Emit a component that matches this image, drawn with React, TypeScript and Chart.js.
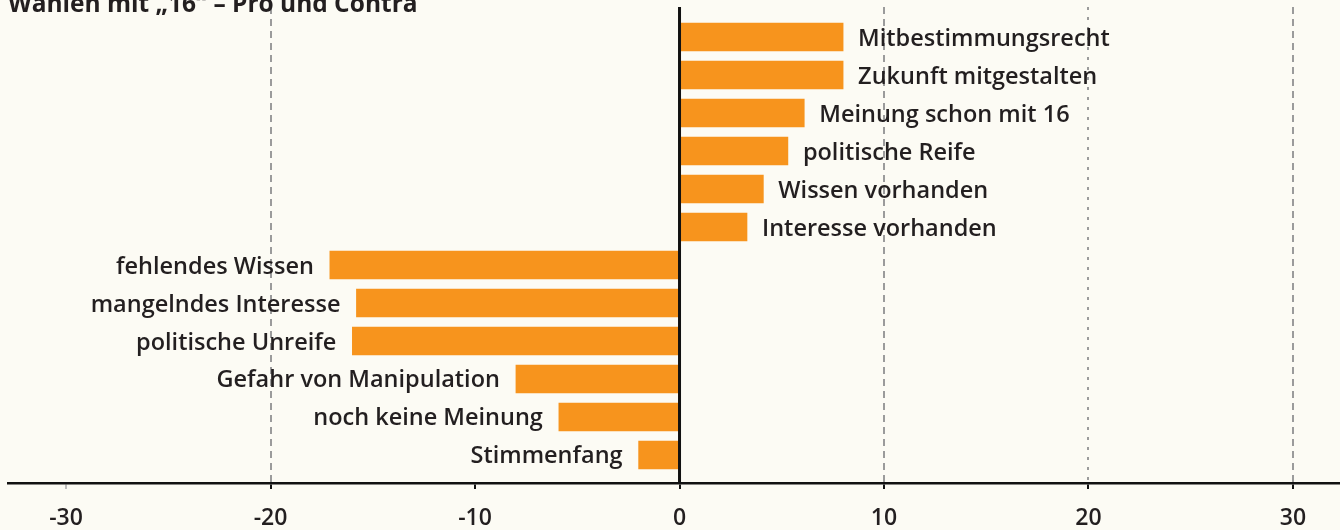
import React, { useEffect, useRef } from "react";
import { Chart, registerables } from "chart.js";

Chart.register(...registerables);

const TITLE = "Wahlen mit „16“ – Pro und Contra";
const categories = [
  "Mitbestimmungsrecht",
  "Zukunft mitgestalten",
  "Meinung schon mit 16",
  "politische Reife",
  "Wissen vorhanden",
  "Interesse vorhanden",
  "fehlendes Wissen",
  "mangelndes Interesse",
  "politische Unreife",
  "Gefahr von Manipulation",
  "noch keine Meinung",
  "Stimmenfang",
];
const values = [8.0, 8.0, 6.1, 5.3, 4.1, 3.3, -17.1, -15.8, -16.0, -8.0, -5.9, -2.0];
const tickValues = [-30, -20, -10, 0, 10, 20, 30];
const gridValues = [-20, 10, 20, 30];

const FONT = "'Open Sans'";
const TEXT = "#231f20";
const BAR = "#f7941d";
const BG = "#fcfbf4";

export default function App() {
  const ref = useRef<HTMLCanvasElement | null>(null);

  useEffect(() => {
    document.body.style.margin = "0";
    document.body.style.background = BG;
    document.body.style.overflow = "hidden";
    const canvas = ref.current;
    if (!canvas) return;

    const overlay = {
      id: "overlay",
      beforeDatasetsDraw(chart: any) {
        const { ctx, chartArea, scales } = chart;
        const x = scales.x;
        ctx.save();
        ctx.strokeStyle = "#9b9b9b";
        ctx.lineWidth = 2;
        gridValues.forEach((v) => {
          const px = Math.round(x.getPixelForValue(v));
          ctx.setLineDash(v === 20 ? [3, 7] : [7, 5]);
          ctx.beginPath();
          ctx.moveTo(px, chartArea.top);
          ctx.lineTo(px, chartArea.bottom);
          ctx.stroke();
        });
        ctx.restore();
      },
      afterDatasetsDraw(chart: any) {
        const { ctx, chartArea, scales } = chart;
        const x = scales.x;
        const y = scales.y;
        ctx.save();
        const zx = x.getPixelForValue(0);
        ctx.strokeStyle = "#111111";
        ctx.lineWidth = 3;
        ctx.beginPath();
        ctx.moveTo(zx, chartArea.top);
        ctx.lineTo(zx, chartArea.bottom);
        ctx.stroke();
        ctx.fillStyle = TEXT;
        ctx.font = `600 23.5px ${FONT}`;
        ctx.textBaseline = "alphabetic";
        categories.forEach((c, i) => {
          const v = values[i];
          const py = y.getPixelForValue(i) + 8.5;
          const px = x.getPixelForValue(v);
          if (v >= 0) {
            ctx.textAlign = "left";
            ctx.fillText(c, px + 15, py);
          } else {
            ctx.textAlign = "right";
            ctx.fillText(c, px - 16, py);
          }
        });
        ctx.font = `bold 24.5px ${FONT}`;
        ctx.textAlign = "left";
        ctx.fillText(TITLE, 8, 12);
        ctx.restore();
      },
    };

    const chart = new Chart(canvas, {
      type: "bar",
      data: {
        labels: categories,
        datasets: [
          {
            data: values.map((v, i) => ({ x: v, y: i })),
            backgroundColor: BAR,
            borderWidth: 0,
            barThickness: 28,
          },
        ],
      },
      options: {
        indexAxis: "y",
        animation: false,
        responsive: false,
        maintainAspectRatio: false,
        layout: { padding: { left: 8, right: 0, top: 7, bottom: 1 } },
        plugins: {
          legend: { display: false },
          tooltip: { enabled: false },
          title: { display: false },
        },
        scales: {
          x: {
            type: "linear",
            min: -32.84,
            max: 32.3,
            afterBuildTicks: (scale: any) => {
              scale.ticks = tickValues.map((v) => ({ value: v }));
            },
            afterFit: (scale: any) => {
              scale.height = 46;
            },
            ticks: {
              color: TEXT,
              font: { family: FONT, size: 23, weight: "600" },
              padding: 16,
              includeBounds: false,
            },
            grid: {
              drawOnChartArea: false,
              drawTicks: true,
              tickLength: 6,
              lineWidth: 2,
              color: (ctx: any) => (ctx.tick && ctx.tick.value === -30 ? "#bdbdbd" : "#111111"),
            },
            border: { display: true, color: "#111111", width: 2.5 },
          },
          y: {
            type: "linear",
            reverse: true,
            offset: false,
            grid: { offset: false },
            min: -0.79,
            max: 11.737,
            display: false,
          },
        },
      },
      plugins: [overlay],
    });
    return () => chart.destroy();
  }, []);

  return (
    <div style={{ width: 1340, height: 530, background: BG }}>
      <canvas ref={ref} width={1340} height={530} style={{ display: "block" }} />
    </div>
  );
}
